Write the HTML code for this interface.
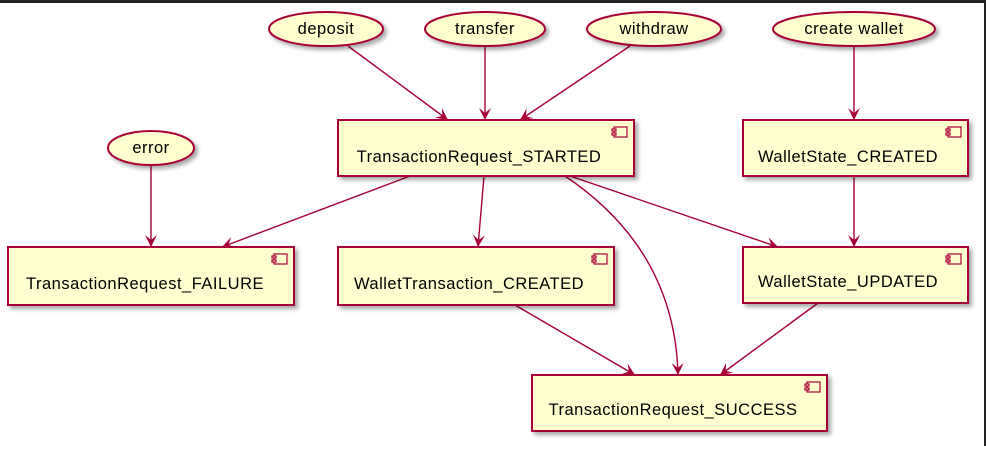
<!DOCTYPE html>
<html><head><style>
body{margin:0;background:#fff;width:986px;height:446px;overflow:hidden}
text{font-family:"Liberation Sans",sans-serif;font-size:16.5px;letter-spacing:0.5px;fill:#000}
</style></head><body>
<svg width="986" height="446" viewBox="0 0 986 446">
<defs>
<filter id="sh" x="-10%" y="-10%" width="130%" height="140%"><feGaussianBlur in="SourceAlpha" stdDeviation="2"/><feOffset dx="3" dy="3"/><feComponentTransfer><feFuncA type="linear" slope="0.35"/></feComponentTransfer><feMerge><feMergeNode/><feMergeNode in="SourceGraphic"/></feMerge></filter>
<marker id="a" markerWidth="14" markerHeight="14" refX="12" refY="6" orient="auto" markerUnits="userSpaceOnUse"><path d="M0,0 L12,6 L0,12 L5,6 Z" fill="#A80036"/></marker>
<g id="ic"><rect x="0" y="0" width="13" height="10" fill="#FEFECE" stroke="#A80036" stroke-width="1.2"/><rect x="-2" y="2" width="4" height="2" fill="#FEFECE" stroke="#A80036" stroke-width="1.2"/><rect x="-2" y="6" width="4" height="2" fill="#FEFECE" stroke="#A80036" stroke-width="1.2"/></g>
</defs>
<rect x="0" y="0" width="986" height="3" fill="#222"/>
<rect x="984" y="0" width="2" height="446" fill="#222"/>
<g stroke="#A80036" stroke-width="1.4" fill="none" marker-end="url(#a)">
<line x1="348" y1="46" x2="448" y2="120"/>
<line x1="485" y1="46" x2="485" y2="120"/>
<line x1="630" y1="46" x2="520" y2="120"/>
<line x1="854" y1="46" x2="854" y2="120"/>
<line x1="151" y1="165" x2="151" y2="247"/>
<line x1="410" y1="176" x2="222" y2="247"/>
<line x1="484" y1="176" x2="478" y2="247"/>
<path d="M565,176 Q675,250 678,375"/>
<line x1="570" y1="176" x2="778" y2="247"/>
<line x1="854" y1="176" x2="854" y2="247"/>
<line x1="515" y1="305" x2="635" y2="375"/>
<line x1="818" y1="303" x2="720" y2="375"/>
</g>
<g fill="#FEFECE" stroke="#A80036" stroke-width="2" filter="url(#sh)">
<ellipse cx="326" cy="29" rx="57" ry="17"/>
<ellipse cx="485" cy="29" rx="60" ry="17"/>
<ellipse cx="654" cy="29" rx="67" ry="17"/>
<ellipse cx="854" cy="29" rx="81" ry="17"/>
<ellipse cx="151" cy="148" rx="43" ry="17"/>
<rect x="338" y="120" width="296" height="56"/>
<rect x="743" y="120" width="225" height="56"/>
<rect x="8" y="247" width="286" height="58"/>
<rect x="338" y="247" width="276" height="58"/>
<rect x="743" y="247" width="225" height="56"/>
<rect x="532" y="375" width="295" height="56"/>
</g>
<use href="#ic" x="614" y="127"/>
<use href="#ic" x="948" y="127"/>
<use href="#ic" x="274" y="254"/>
<use href="#ic" x="594" y="254"/>
<use href="#ic" x="948" y="254"/>
<use href="#ic" x="807" y="382"/>
<g text-anchor="middle">
<text x="326" y="34">deposit</text>
<text x="485" y="34">transfer</text>
<text x="654" y="34">withdraw</text>
<text x="854" y="34">create wallet</text>
<text x="151" y="153">error</text>
<text x="479" y="162">TransactionRequest_STARTED</text>
<text x="848" y="162">WalletState_CREATED</text>
<text x="145" y="289">TransactionRequest_FAILURE</text>
<text x="469" y="289">WalletTransaction_CREATED</text>
<text x="848" y="287">WalletState_UPDATED</text>
<text x="673" y="415">TransactionRequest_SUCCESS</text>
</g>
</svg>
</body></html>
